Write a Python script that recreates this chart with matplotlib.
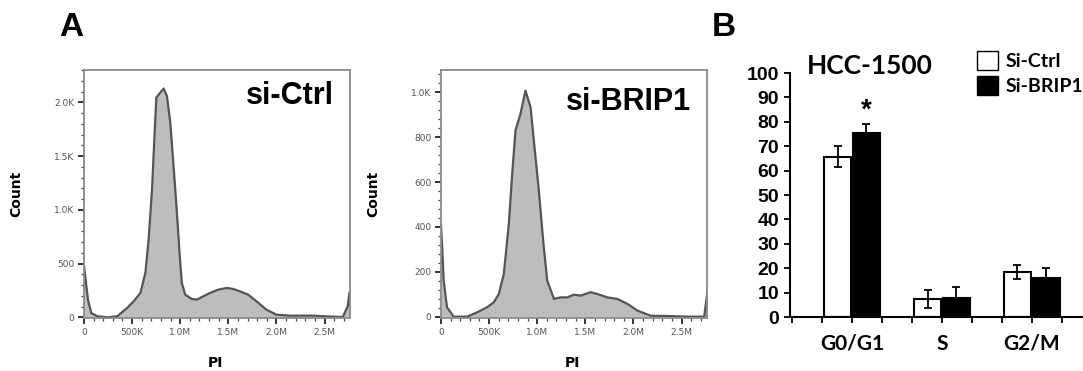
import matplotlib
matplotlib.use("Agg")
import matplotlib.pyplot as plt
from matplotlib.patches import Patch
from matplotlib.ticker import MultipleLocator, FuncFormatter

# ---- panel A: PI histograms ----
ctrl_pi = [0, 8e3, 41e3, 76e3, 138e3, 250e3, 345e3, 448e3, 517e3, 586e3, 638e3, 672e3,
           707e3, 731e3, 752e3, 793e3, 828e3, 862e3, 897e3, 931e3, 966e3, 993e3,
           1017e3, 1052e3, 1121e3, 1172e3, 1241e3, 1310e3, 1397e3, 1483e3, 1552e3,
           1621e3, 1707e3, 1793e3, 1897e3, 2000e3, 2138e3, 2241e3, 2379e3, 2517e3,
           2690e3, 2741e3, 2759e3]
ctrl_count = [475, 420, 165, 40, 10, 0, 10, 87, 150, 227, 413, 724,
              1190, 1655, 2043, 2090, 2128, 2059, 1811, 1407, 972, 599,
              320, 211, 171, 165, 196, 227, 258, 273, 264,
              242, 211, 149, 71, 25, 16, 16, 16, 9,
              3, 102, 227]

brip_pi = [0, 10e3, 28e3, 62e3, 132e3, 271e3, 375e3, 479e3, 549e3, 601e3, 653e3, 705e3,
           740e3, 774e3, 826e3, 878e3, 931e3, 965e3, 1017e3, 1062e3, 1104e3, 1174e3,
           1243e3, 1313e3, 1382e3, 1451e3, 1556e3, 1625e3, 1729e3, 1833e3, 1938e3,
           2042e3, 2181e3, 2354e3, 2563e3, 2736e3, 2771e3]
brip_count = [410, 330, 161, 42, 0, 0, 19, 42, 64, 101, 190, 413,
              636, 830, 904, 1008, 934, 785, 562, 339, 161, 79,
              86, 86, 98, 94, 109, 101, 86, 79, 57,
              27, 4, 3, 0, 0, 116]

# ---- panel B: cell cycle distribution (%) ----
phases = ["G0/G1", "S", "G2/M"]
ctrl_pct = [65.7, 7.4, 18.4]
ctrl_err = [4.4, 3.6, 2.9]
brip_pct = [75.4, 7.8, 16.0]
brip_err = [3.5, 4.5, 4.0]

W, H = 1083, 371
fig = plt.figure(figsize=(W / 100, H / 100), dpi=100)


def fig_rect(x0, y0, x1, y1):
    return [x0 / W, 1 - y1 / H, (x1 - x0) / W, (y1 - y0) / H]


def flow_panel(rect, xs, ys, ymax, ymajor, yminor, ylabels, name, name_xy):
    ax = fig.add_axes(rect)
    ax.fill_between(xs, ys, 0, color="#bdbdbd", lw=0)
    ax.plot(xs, ys, color="#555555", lw=1.6)
    ax.set_xlim(0, 2.765e6)
    ax.set_ylim(-6, ymax)
    ax.xaxis.set_major_locator(MultipleLocator(5e5))
    ax.xaxis.set_minor_locator(MultipleLocator(1e5))
    ax.yaxis.set_major_locator(MultipleLocator(ymajor))
    ax.yaxis.set_minor_locator(MultipleLocator(yminor))
    xl = {0: "0", 5: "500K", 10: "1.0M", 15: "1.5M", 20: "2.0M", 25: "2.5M"}
    ax.xaxis.set_major_formatter(FuncFormatter(lambda v, p: xl.get(int(round(v / 1e5)), "")))
    ax.yaxis.set_major_formatter(FuncFormatter(lambda v, p: ylabels.get(int(round(v)), "")))
    for s in ax.spines.values():
        s.set_color("#8a8a8a")
        s.set_linewidth(1.3)
    ax.tick_params(which="major", direction="out", length=4, width=1.3, color="#222222",
                   labelsize=6.5, labelcolor="#555555", pad=3)
    ax.tick_params(which="minor", direction="out", length=2.5, width=0.9, color="#444444")
    ax.set_ylabel("Count", fontsize=10, fontweight="bold")
    ax.yaxis.set_label_coords(-0.228, 0.5)
    ax.set_xlabel("PI", fontsize=10, fontweight="bold")
    ax.xaxis.set_label_coords(0.495, -0.152)
    fig.text(name_xy[0] / W, 1 - name_xy[1] / H, name, fontsize=22, fontweight="bold",
             family="Liberation Sans", ha="center", va="center")
    return ax


flow_panel(fig_rect(84, 70, 350, 318), ctrl_pi, ctrl_count, 2300, 500, 100,
           {0: "0", 500: "500", 1000: "1.0K", 1500: "1.5K", 2000: "2.0K"},
           "si-Ctrl", (290, 96))
flow_panel(fig_rect(441, 70, 707, 318), brip_pi, brip_count, 1100, 200, 40,
           {0: "0", 200: "200", 400: "400", 600: "600", 800: "800", 1000: "1.0K"},
           "si-BRIP1", (628, 102))

fig.text(71 / W, 1 - 27 / H, "A", fontsize=24, fontweight="bold", family="Liberation Sans",
         ha="center", va="center")
fig.text(724 / W, 1 - 28 / H, "B", fontsize=24, fontweight="bold", family="Liberation Sans",
         ha="center", va="center")

# ---- bar chart ----
bx = fig.add_axes(fig_rect(790, 73, 1083, 317))
pos = list(range(len(phases)))
off = 0.161
bw = 0.29
bx.bar([p - off for p in pos], ctrl_pct, bw, color="white", edgecolor="black", lw=1.5,
       yerr=ctrl_err, error_kw=dict(ecolor="black", elinewidth=1.3, capsize=3, capthick=1.3))
bx.bar([p + off for p in pos], brip_pct, bw, color="black", edgecolor="black", lw=1.5,
       yerr=brip_err, error_kw=dict(ecolor="black", elinewidth=1.3, capsize=3, capthick=1.3))
bx.set_xlim(-0.689, 2.567)
bx.set_ylim(0, 100)
bx.set_yticks(range(0, 101, 10))
bx.set_xticks(pos)
bx.set_xticklabels(phases, family="Lato", fontweight="bold", fontsize=15)
bx.set_xticks([i / 3 for i in range(-2, 8)], minor=True)
for lab in bx.get_yticklabels():
    lab.set_family("Liberation Sans")
    lab.set_fontweight("bold")
    lab.set_fontsize(14)
bx.spines["top"].set_visible(False)
bx.spines["right"].set_visible(False)
bx.spines["left"].set_linewidth(1.5)
bx.spines["bottom"].set_linewidth(1.5)
bx.tick_params(axis="y", direction="out", length=4, width=1.3, pad=4)
bx.tick_params(axis="x", which="both", direction="out", length=4, width=1.3, pad=8)
bx.text(pos[0] + off, 84.5, "*", fontsize=20, fontweight="bold", family="Liberation Sans",
        ha="center", va="center")
fig.text(870 / W, 1 - 66 / H, "HCC-1500", family="Lato", fontweight="bold", fontsize=19,
         ha="center", va="center")
handles = [Patch(facecolor="white", edgecolor="black", lw=1.0, label="Si-Ctrl"),
           Patch(facecolor="black", edgecolor="black", lw=1.0, label="Si-BRIP1")]
fig.legend(handles=handles, loc="upper left", bbox_to_anchor=(977 / W, 1 - 51 / H),
           frameon=False, borderpad=0, borderaxespad=0, handlelength=1.1, handleheight=1.15,
           labelspacing=0.3, handletextpad=0.35,
           prop=dict(family="Lato", weight="bold", size=14))

fig.savefig("out.png", dpi=100)
